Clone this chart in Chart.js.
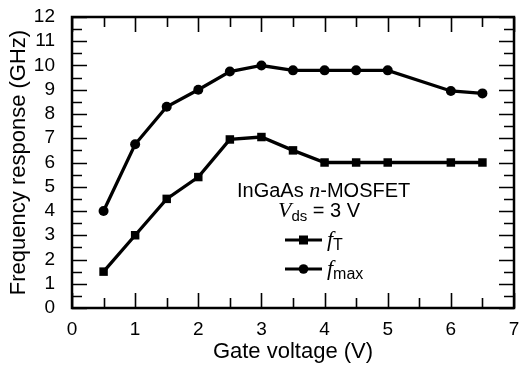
<!DOCTYPE html>
<html><head><meta charset="utf-8">
<script src="https://cdn.jsdelivr.net/npm/chart.js@4"></script>
<style>html,body{margin:0;padding:0;background:#fff;}</style>
</head><body>
<canvas id="c" width="520" height="365" style="width:520px;height:365px;display:block"></canvas>
<script>
// ---- data ----
const gateVoltage = [0.5, 1, 1.5, 2, 2.5, 3, 3.5, 4, 4.5, 5, 6, 6.5];
const fT   = [1.5, 3.0, 4.5, 5.4, 6.95, 7.05, 6.5, 6.0, 6.0, 6.0, 6.0, 6.0];
const fMax = [4.0, 6.75, 8.3, 9.0, 9.75, 10.0, 9.8, 9.8, 9.8, 9.8, 8.95, 8.85];
const xTickValues = [0, 1, 2, 3, 4, 5, 6, 7];
const yTickValues = [0, 1, 2, 3, 4, 5, 6, 7, 8, 9, 10, 11, 12];
const xTitle = 'Gate voltage (V)';
const yTitle = 'Frequency response (GHz)';

const SANS = "'Liberation Sans', Arial, Helvetica, sans-serif";
const SERIF = "'Liberation Serif', 'DejaVu Serif', serif";

const frameTicks = {
  id: 'frameTicks',
  afterDatasetsDraw(chart) {
    const ctx = chart.ctx, a = chart.chartArea;
    const xs = chart.scales.x, ys = chart.scales.y;
    ctx.save();
    ctx.strokeStyle = '#000';
    ctx.lineWidth = 1.6;
    ctx.beginPath();
    for (let v = xs.min; v <= xs.max + 1e-9; v += 0.5) {
      const p = Math.round(xs.getPixelForValue(v)) + 0.5;
      const len = Number.isInteger(v) ? 15 : 10;
      ctx.moveTo(p, a.bottom); ctx.lineTo(p, a.bottom - len);
      ctx.moveTo(p, a.top); ctx.lineTo(p, a.top + len);
    }
    for (let v = ys.min; v <= ys.max + 1e-9; v += 0.5) {
      const p = Math.round(ys.getPixelForValue(v)) + 0.5;
      const len = Number.isInteger(v) ? 15 : 10;
      ctx.moveTo(a.left, p); ctx.lineTo(a.left + len, p);
      ctx.moveTo(a.right, p); ctx.lineTo(a.right - len, p);
    }
    ctx.stroke();
    ctx.lineWidth = 2.5;
    ctx.strokeRect(a.left, a.top, a.right - a.left, a.bottom - a.top);
    ctx.restore();
  }
};

const legendText = {
  id: 'legendText',
  afterDraw(chart) {
    const ctx = chart.ctx;
    ctx.save();
    ctx.fillStyle = '#000';
    ctx.strokeStyle = '#000';
    ctx.textBaseline = 'alphabetic';
    ctx.textAlign = 'left';
    function run(parts, x, y) {
      for (const [txt, font, dy] of parts) {
        ctx.font = font;
        ctx.fillText(txt, x, y + (dy || 0));
        x += ctx.measureText(txt).width;
      }
      return x;
    }
    run([["InGaAs ", "20px " + SANS], ["n", "italic 22px " + SERIF], ["-MOSFET", "20px " + SANS]], 237, 197);
    run([["V", "italic 22px " + SERIF], ["ds", "15px " + SANS, 4], [" = 3 V", "20px " + SANS]], 278, 217);
    // legend symbols
    ctx.lineWidth = 3.2;
    ctx.beginPath();
    ctx.moveTo(285, 240); ctx.lineTo(322, 240);
    ctx.moveTo(285, 269); ctx.lineTo(322, 269);
    ctx.stroke();
    ctx.fillRect(303.5 - 4.5, 240 - 4.5, 9, 9);
    ctx.beginPath(); ctx.arc(303.5, 269, 4.8, 0, Math.PI * 2); ctx.fill();
    run([["f", "italic 22px " + SERIF], ["T", "16px " + SANS, 4]], 327, 246);
    run([["f", "italic 22px " + SERIF], ["max", "16px " + SANS, 4]], 327, 275);
    ctx.restore();
  }
};

new Chart(document.getElementById('c'), {
  type: 'line',
  data: {
    datasets: [
      {
        label: 'fT',
        data: gateVoltage.map((x, i) => ({x, y: fT[i]})),
        borderColor: '#000', backgroundColor: '#000',
        borderWidth: 3.3, pointStyle: 'rect', pointRadius: 6, pointHoverRadius: 6,
        pointBorderWidth: 0, tension: 0
      },
      {
        label: 'fmax',
        data: gateVoltage.map((x, i) => ({x, y: fMax[i]})),
        borderColor: '#000', backgroundColor: '#000',
        borderWidth: 3.3, pointStyle: 'circle', pointRadius: 5, pointHoverRadius: 5,
        pointBorderWidth: 0, tension: 0
      }
    ]
  },
  options: {
    responsive: false,
    animation: false,
    devicePixelRatio: 1,
    layout: { padding: { top: 17, right: 4, left: 0, bottom: 0 } },
    plugins: { legend: { display: false }, tooltip: { enabled: false } },
    scales: {
      x: {
        type: 'linear', min: 0, max: 7,
        afterBuildTicks(s) { s.ticks = xTickValues.map(v => ({value: v})); },
        afterFit(s) { s.height = 57; s.paddingLeft = 0; s.paddingRight = 0; },
        grid: { display: false },
        border: { display: false },
        ticks: { color: '#000', font: { family: SANS, size: 19 }, padding: 2, maxRotation: 0, autoSkip: false },
        title: { display: true, text: xTitle, color: '#000', font: { family: SANS, size: 22 }, padding: { top: -5, bottom: 0 } }
      },
      y: {
        type: 'linear', min: 0, max: 12,
        afterBuildTicks(s) { s.ticks = yTickValues.map(v => ({value: v})); },
        afterFit(s) { s.width = 72; s.paddingTop = 0; s.paddingBottom = 0; },
        grid: { display: false },
        border: { display: false },
        ticks: { color: '#000', font: { family: SANS, size: 19 }, padding: 9, autoSkip: false },
        title: { display: true, text: yTitle, color: '#000', font: { family: SANS, size: 22 }, padding: { top: 6, bottom: 0 } }
      }
    }
  },
  plugins: [frameTicks, legendText]
});
</script>
</body></html>
